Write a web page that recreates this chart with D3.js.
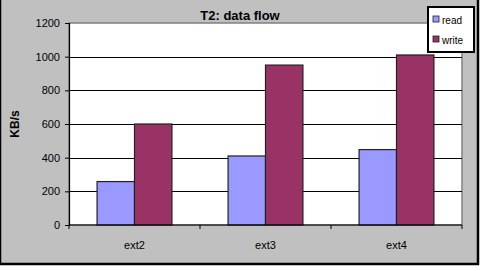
<!DOCTYPE html>
<html>
<head>
<meta charset="utf-8">
<script src="https://cdn.jsdelivr.net/npm/d3@7/dist/d3.min.js"></script>
<style>
  html, body { margin: 0; padding: 0; background: #fff; }
  svg { display: block; font-family: "Liberation Sans", Arial, sans-serif; }
</style>
</head>
<body>
<div id="chart"></div>
<script>
    'use strict';

    var categories = ['ext2', 'ext3', 'ext4'];
    var seriesNames = ['read', 'write'];
    var readValues = [258, 410, 448];
    var writeValues = [600, 950, 1010];
    var yTicks = [0, 200, 400, 600, 800, 1000, 1200];
    var colors = { read: '#9999ff', write: '#993366' };

    var width = 485, height = 271;
    var plot = { left: 69, right: 462, top: 23, bottom: 225 };

    var svg = d3.select('#chart').append('svg')
        .attr('width', width)
        .attr('height', height);

    // outer chart area, cropped at top
    svg.append('rect')
        .attr('x', 0).attr('y', -5)
        .attr('width', 478).attr('height', 269)
        .attr('fill', '#c0c0c0')
        .attr('stroke', '#000')
        .attr('stroke-width', 2.5);

    var x = d3.scaleBand()
        .domain(categories)
        .range([plot.left, plot.right]);

    var xInner = d3.scaleBand()
        .domain(seriesNames)
        .range([0, x.bandwidth()])
        .paddingOuter(0.75);

    var y = d3.scaleLinear()
        .domain([0, 1200])
        .range([plot.bottom, plot.top]);

    // plot area
    svg.append('rect')
        .attr('x', plot.left).attr('y', plot.top)
        .attr('width', plot.right - plot.left)
        .attr('height', plot.bottom - plot.top)
        .attr('fill', '#fff')
        .attr('stroke', '#808080')
        .attr('stroke-width', 1.5);

    svg.append('g')
        .selectAll('line')
        .data(yTicks.filter(function(d) { return d > 0 && d < 1200; }))
        .join('line')
        .attr('x1', plot.left).attr('x2', plot.right)
        .attr('y1', function(d) { return Math.round(y(d)) + 0.5; })
        .attr('y2', function(d) { return Math.round(y(d)) + 0.5; })
        .attr('stroke', '#000')
        .attr('stroke-width', 1);

    var rows = categories.map(function(c, i) {
        return { cat: c, read: readValues[i], write: writeValues[i] };
    });

    svg.append('g')
        .selectAll('g')
        .data(rows)
        .join('g')
        .attr('transform', function(d) { return 'translate(' + x(d.cat) + ',0)'; })
        .selectAll('rect')
        .data(function(d) { return seriesNames.map(function(s) { return { key: s, value: d[s] }; }); })
        .join('rect')
        .attr('x', function(d) { return xInner(d.key); })
        .attr('width', xInner.bandwidth())
        .attr('y', function(d) { return y(d.value); })
        .attr('height', function(d) { return plot.bottom - y(d.value); })
        .attr('fill', function(d) { return colors[d.key]; })
        .attr('stroke', '#222')
        .attr('stroke-width', 1.2);

    // y axis
    var yAxis = svg.append('g')
        .attr('transform', 'translate(' + plot.left + ',0)')
        .call(d3.axisLeft(y).tickValues(yTicks).tickFormat(d3.format('d')).tickSize(4).tickPadding(5));
    yAxis.select('.domain').attr('stroke', '#000').attr('stroke-width', 1.2);
    yAxis.selectAll('text').attr('font-size', 11).attr('fill', '#000')
        .attr('font-family', '"Liberation Sans", Arial, sans-serif');

    // x axis, ticks between categories
    var xAxis = svg.append('g')
        .attr('transform', 'translate(0,' + plot.bottom + ')');
    xAxis.append('line')
        .attr('x1', plot.left).attr('x2', plot.right)
        .attr('stroke', '#000').attr('stroke-width', 1.2);
    xAxis.selectAll('.tk')
        .data(categories.concat(['end']))
        .join('line')
        .attr('class', 'tk')
        .attr('x1', function(d, i) { return i < categories.length ? x(d) : plot.right; })
        .attr('x2', function(d, i) { return i < categories.length ? x(d) : plot.right; })
        .attr('y1', 0).attr('y2', 4)
        .attr('stroke', '#000');
    xAxis.selectAll('text')
        .data(categories)
        .join('text')
        .attr('x', function(d) { return x(d) + x.bandwidth() / 2; })
        .attr('y', 24)
        .attr('text-anchor', 'middle')
        .attr('font-size', 11)
        .text(function(d) { return d; });

    // title
    svg.append('text')
        .attr('x', 240).attr('y', 20)
        .attr('text-anchor', 'middle')
        .attr('font-size', 13)
        .attr('font-weight', 'bold')
        .text('T2: data flow');

    // y label
    svg.append('text')
        .attr('transform', 'translate(19,124) rotate(-90)')
        .attr('text-anchor', 'middle')
        .attr('font-size', 12)
        .attr('font-weight', 'bold')
        .text('KB/s');

    // legend
    var legend = svg.append('g').attr('transform', 'translate(428,7)');
    legend.append('rect')
        .attr('width', 46).attr('height', 45)
        .attr('fill', '#fff')
        .attr('stroke', '#000')
        .attr('stroke-width', 2);
    var items = legend.selectAll('g.item')
        .data(seriesNames)
        .join('g')
        .attr('class', 'item')
        .attr('transform', function(d, i) { return 'translate(5,' + (13 + i * 20) + ')'; });
    items.append('rect')
        .attr('x', 0).attr('y', -4)
        .attr('width', 6).attr('height', 6)
        .attr('fill', function(d) { return colors[d]; })
        .attr('stroke', '#222')
        .attr('stroke-width', 0.8);
    items.append('text')
        .attr('x', 9).attr('y', 1)
        .attr('dominant-baseline', 'middle')
        .attr('font-size', 10)
        .text(function(d) { return d; });
</script>
</body>
</html>
